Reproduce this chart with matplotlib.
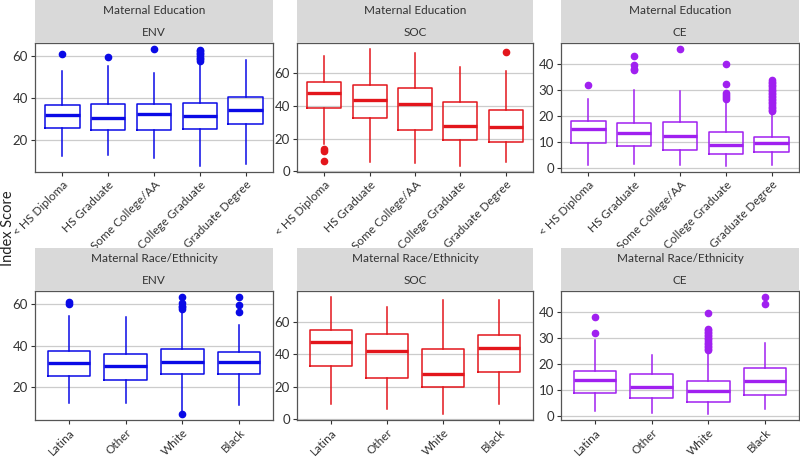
import matplotlib
matplotlib.use("Agg")
import matplotlib.pyplot as plt
from matplotlib.patches import Rectangle

plt.rcParams['font.family'] = ['Lato', 'DejaVu Sans']

# categories
edu_labels = ['< HS Diploma', 'HS Graduate', 'Some College/AA', 'College Graduate', 'Graduate Degree']
race_labels = ['Latina', 'Other', 'White', 'Black']

# Maternal Education - ENV
env_edu_lo = [12.1, 12.7, 11.0, 7.3, 8.1]
env_edu_q1 = [25.5, 24.7, 24.5, 25.2, 27.7]
env_edu_med = [31.6, 30.6, 32.3, 31.3, 34.0]
env_edu_q3 = [36.5, 36.9, 37.3, 37.7, 40.6]
env_edu_hi = [53.1, 55.5, 51.8, 57.3, 58.2]
env_edu_out = [[60.8], [59.4], [63.5], [57.8, 58.5, 59.3, 60.0, 60.8, 61.5, 62.3, 63.0], []]

# Maternal Education - SOC
soc_edu_lo = [16.5, 5.6, 5.2, 3.1, 5.8]
soc_edu_q1 = [38.6, 32.6, 25.2, 19.2, 18.1]
soc_edu_med = [48.0, 43.9, 41.0, 27.8, 27.2]
soc_edu_q3 = [54.8, 52.8, 51.1, 42.7, 37.7]
soc_edu_hi = [70.5, 75.1, 72.4, 64.1, 61.6]
soc_edu_out = [[13.9, 12.4, 6.0], [], [], [], [73.0]]

# Maternal Education - CE
ce_edu_lo = [1.2, 1.3, 1.0, 0.6, 1.0]
ce_edu_q1 = [9.6, 8.2, 6.7, 5.3, 6.0]
ce_edu_med = [14.9, 13.5, 12.2, 8.7, 9.6]
ce_edu_q3 = [17.9, 17.3, 17.5, 13.9, 12.0]
ce_edu_hi = [26.5, 30.0, 29.6, 26.0, 21.4]
ce_edu_out = [[31.8], [43.3, 39.7, 38.1, 37.6], [45.9],
              [40.0, 32.5, 28.7, 28.0, 27.3, 26.6],
              [21.8, 22.4, 23.0, 23.6, 24.2, 24.8, 25.4, 26.0, 26.6, 27.2, 27.8,
               28.4, 29.0, 29.6, 30.2, 30.8, 31.4, 32.0, 32.6, 33.2, 33.8]]

# Maternal Race/Ethnicity - ENV
env_race_lo = [12.6, 12.6, 8.5, 11.2]
env_race_q1 = [25.4, 23.4, 26.2, 26.4]
env_race_med = [31.8, 30.2, 32.2, 32.2]
env_race_q3 = [37.6, 35.8, 38.4, 37.1]
env_race_hi = [54.2, 53.6, 57.0, 49.9]
env_race_out = [[60.3, 60.9], [], [57.6, 58.4, 59.3, 60.5, 63.2, 7.0], [56.0, 59.5, 63.5]]

# Maternal Race/Ethnicity - SOC
soc_race_lo = [9.3, 6.0, 3.1, 9.3]
soc_race_q1 = [32.9, 25.3, 19.9, 28.8]
soc_race_med = [47.4, 42.0, 28.0, 43.9]
soc_race_q3 = [55.1, 52.4, 42.9, 51.8]
soc_race_hi = [75.2, 69.2, 73.3, 73.1]
soc_race_out = [[], [], [], []]

# Maternal Race/Ethnicity - CE
ce_race_lo = [1.9, 1.3, 0.8, 2.8]
ce_race_q1 = [8.9, 7.0, 5.4, 8.2]
ce_race_med = [14.1, 11.3, 9.6, 13.7]
ce_race_q3 = [17.6, 16.1, 13.5, 18.4]
ce_race_hi = [29.5, 23.7, 25.0, 28.2]
ce_race_out = [[38.2, 32.0], [],
               [39.8, 25.4, 26.0, 26.6, 27.2, 27.8, 28.4, 29.0, 29.6, 30.2,
                30.8, 31.4, 32.0, 32.6, 33.2, 33.8],
               [46.0, 43.2]]

env_ticks = [20, 40, 60]
soc_ticks = [0, 20, 40, 60]
ce_ticks = [0, 10, 20, 30, 40]

colors = {'ENV': '#0a0ae6', 'SOC': '#e3161c', 'CE': '#a020f0'}

panels = [
    ('Maternal Education', 'ENV', edu_labels, env_edu_lo, env_edu_q1, env_edu_med, env_edu_q3, env_edu_hi, env_edu_out, env_ticks),
    ('Maternal Education', 'SOC', edu_labels, soc_edu_lo, soc_edu_q1, soc_edu_med, soc_edu_q3, soc_edu_hi, soc_edu_out, soc_ticks),
    ('Maternal Education', 'CE', edu_labels, ce_edu_lo, ce_edu_q1, ce_edu_med, ce_edu_q3, ce_edu_hi, ce_edu_out, ce_ticks),
    ('Maternal Race/Ethnicity', 'ENV', race_labels, env_race_lo, env_race_q1, env_race_med, env_race_q3, env_race_hi, env_race_out, env_ticks),
    ('Maternal Race/Ethnicity', 'SOC', race_labels, soc_race_lo, soc_race_q1, soc_race_med, soc_race_q3, soc_race_hi, soc_race_out, soc_ticks),
    ('Maternal Race/Ethnicity', 'CE', race_labels, ce_race_lo, ce_race_q1, ce_race_med, ce_race_q3, ce_race_hi, ce_race_out, ce_ticks),
]

W, H = 800, 457
fig = plt.figure(figsize=(8, 4.57), dpi=100)

# panel boxes in pixels (left, right, top, bottom)
cols = [(35, 273), (297, 533), (561, 799)]
rows = [(43, 172), (291, 420)]
strip_h = 43

for i, (grp, measure, labels, lo, q1, med, q3, hi, out, ticks) in enumerate(panels):
    r, c = divmod(i, 3)
    x0, x1 = cols[c]
    y0, y1 = rows[r]
    ax = fig.add_axes([x0 / W, 1 - y1 / H, (x1 - x0) / W, (y1 - y0) / H])
    col = colors[measure]

    stats = []
    for k in range(len(labels)):
        stats.append(dict(whislo=lo[k], q1=q1[k], med=med[k], q3=q3[k], whishi=hi[k], fliers=out[k]))
    ax.bxp(stats, positions=range(1, len(labels) + 1), widths=0.75, showcaps=False,
           boxprops=dict(color=col, lw=1.1),
           whiskerprops=dict(color=col, lw=1.1),
           medianprops=dict(color=col, lw=2.4, solid_capstyle='butt'),
           flierprops=dict(marker='o', markerfacecolor=col, markeredgecolor=col, markersize=4.5))

    # ggplot-style 5% expansion of data range
    allv = lo + hi + [v for o in out for v in o]
    vmin, vmax = min(allv), max(allv)
    pad = (vmax - vmin) * 0.05
    ax.set_ylim(vmin - pad, vmax + pad)
    ax.set_xlim(0.4, len(labels) + 0.6)
    ax.set_yticks(ticks)
    ax.set_xticks(range(1, len(labels) + 1))
    ax.set_xticklabels(labels, rotation=45, ha='right', rotation_mode='anchor', fontsize=8.5)
    ax.tick_params(axis='y', labelsize=9.5)
    ax.tick_params(colors='#333333', length=3, width=0.8, pad=2)
    ax.yaxis.grid(True, color='#cccccc', lw=0.9)
    ax.set_axisbelow(True)
    for s in ax.spines.values():
        s.set_color('#555555')
        s.set_linewidth(0.9)

    # strip
    fig.patches.append(Rectangle((x0 / W, 1 - y0 / H), (x1 - x0) / W, strip_h / H,
                                 transform=fig.transFigure, facecolor='#d9d9d9', edgecolor='none'))
    xc = (x0 + x1) / 2 / W
    fig.text(xc, 1 - (y0 - 33) / H, grp, ha='center', va='center', fontsize=8.5, color='#333333')
    fig.text(xc, 1 - (y0 - 11) / H, measure, ha='center', va='center', fontsize=8.5, color='#333333')

fig.text(8 / W, 1 - 228 / H, 'Index Score', rotation=90, ha='center', va='center', fontsize=10.5, color='#222222')

fig.savefig('out.png', dpi=100, facecolor='white')
